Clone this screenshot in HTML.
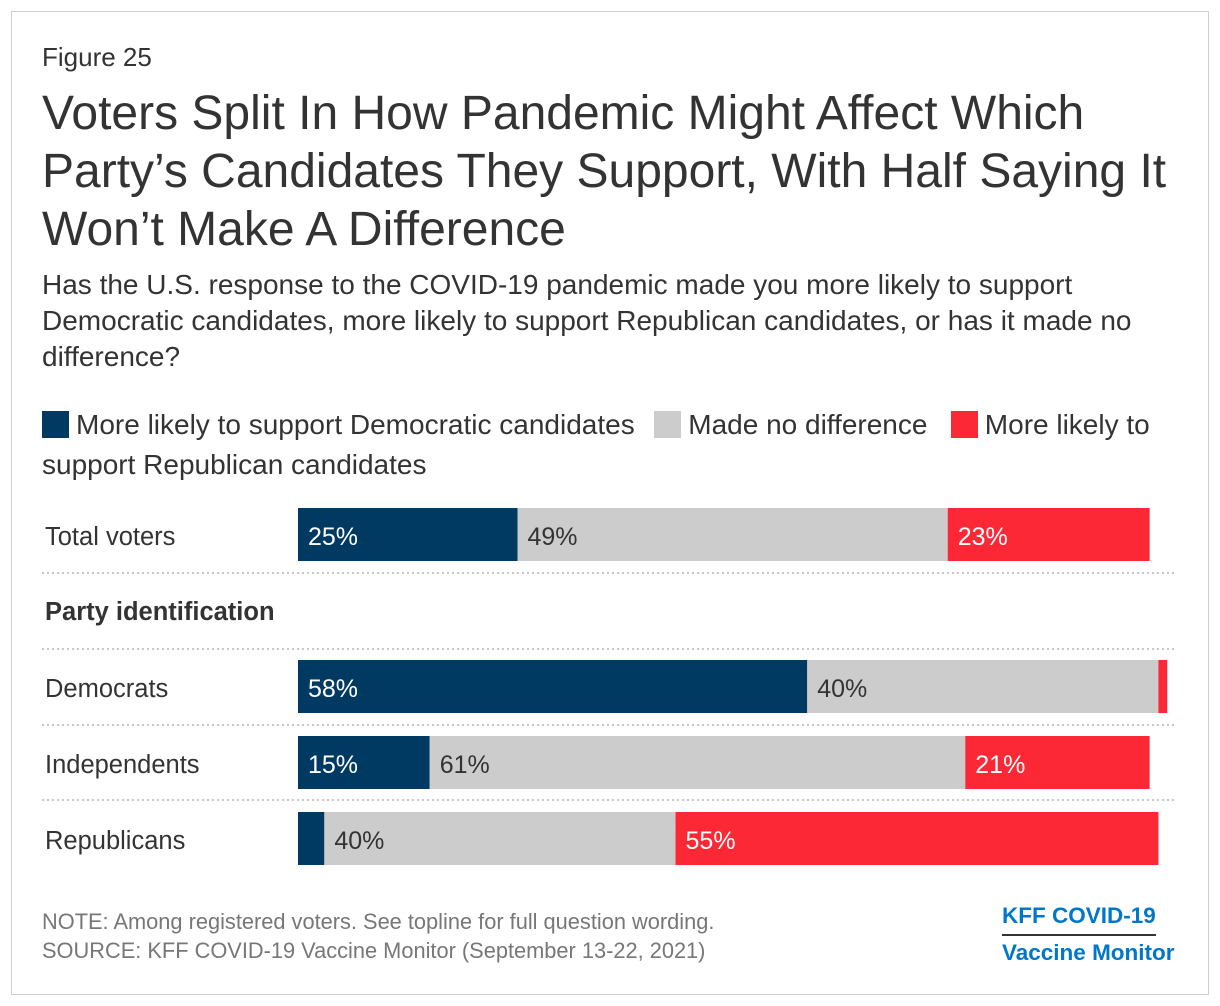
<!DOCTYPE html>
<html><head><meta charset="utf-8"><style>
body{margin:0;background:#fff;font-family:"Liberation Sans",Arial,sans-serif;}
#frame{position:absolute;left:11px;top:11px;width:1196px;height:982px;border:1px solid #cfcfcf;}
.t{position:absolute;color:#333;white-space:nowrap;}
</style></head><body>
<div id="frame"></div>
<div class="t" style="left:42px;top:42px;font-size:26px">Figure 25</div>
<div class="t" style="left:42px;top:85px;font-size:48px;line-height:58px;color:#333">Voters Split In How Pandemic Might Affect Which<br>Party’s Candidates They Support, With Half Saying It<br>Won’t Make A Difference</div>
<div class="t" style="left:42px;top:267px;font-size:28px;line-height:36px">Has the U.S. response to the COVID-19 pandemic made you more likely to support<br>Democratic candidates, more likely to support Republican candidates, or has it made no<br>difference?</div>
<div class="t" style="left:42px;top:405px;font-size:28px;line-height:40px"><span><span style="display:inline-block;width:27px;height:27px;background:#003a63;vertical-align:-4px;margin-right:7px"></span>More likely to support Democratic candidates</span>&nbsp;&nbsp;<span><span style="display:inline-block;width:27px;height:27px;background:#cccccc;vertical-align:-4px;margin-right:7px;margin-left:4px"></span>Made no difference</span>&nbsp;&nbsp; <span><span style="display:inline-block;width:27px;height:27px;background:#fc2836;vertical-align:-4px;margin-right:7px"></span>More likely to<br>support Republican candidates</span></div>
<svg id="chart" width="1220" height="1006" style="position:absolute;left:0;top:0"></svg>
<div class="t" style="left:42px;top:907px;font-size:21.8px;line-height:29px;color:#777">NOTE: Among registered voters. See topline for full question wording.<br>SOURCE: KFF COVID-19 Vaccine Monitor (September 13-22, 2021)</div>
<div class="t" style="left:1002px;top:899px;font-size:22.5px;font-weight:bold;color:#0077c8;line-height:34px"><span style="display:inline-block;border-bottom:2px solid #333;padding-bottom:1px">KFF COVID-19</span><br>Vaccine Monitor</div>
<script>
const categories=["Total voters","Democrats","Independents","Republicans"];
const democratic=[25,58,15,3];
const noDifference=[49,40,61,40];
const republican=[23,1,21,55];
const rowTops=[508,660,736,812];
const svg=document.getElementById('chart');
const NS='http://www.w3.org/2000/svg';
const x0=298, scale=8.78, barH=53;
const xs=v=>v*scale;
function mk(tag,attrs){const e=document.createElementNS(NS,tag);for(const k in attrs)e.setAttribute(k,attrs[k]);svg.appendChild(e);return e;}
[573,649,725,800].forEach(y=>{
  const l=mk('line',{x1:42,x2:1175,y1:y,y2:y,stroke:'#c8c8c8','stroke-width':2,'stroke-dasharray':'2,3'});
  
  
});
const h=mk('text',{x:45,y:620,'font-size':25.5,'font-weight':'bold',fill:'#333'});h.textContent='Party identification';


const series=[[democratic,'#003a63','#fff','democratic'],[noDifference,'#cccccc','#333','no-difference'],[republican,'#fc2836','#fff','republican']];
categories.forEach((c,i)=>{
  const y=rowTops[i];
  const lab=mk('text',{x:45,y:y+37,'font-size':25.5,fill:'#333'});lab.textContent=c;
  
  
  let x=x0;
  series.forEach(([arr,col,tc,nm])=>{
    const v=arr[i],w=xs(v);
    const r=mk('rect',{x:x,y:y,width:w,height:barH,fill:col});
    
    
    if(v>=10){const t=mk('text',{x:x+10,y:y+37,'font-size':25,fill:tc});t.textContent=v+'%';
      
      }
    x+=w;
  });
});
</script>
</body></html>
